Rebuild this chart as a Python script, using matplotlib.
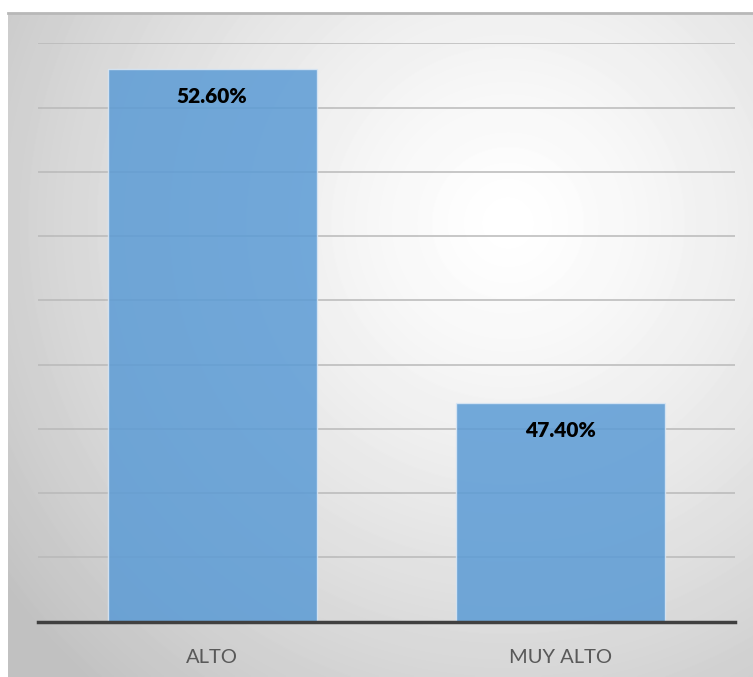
import numpy as np
import matplotlib.pyplot as plt

categories = ["ALTO", "MUY ALTO"]
values = [52.6, 47.4]
labels = ["52.60%", "47.40%"]

W, H = 753, 677
fig = plt.figure(figsize=(W / 100, H / 100), dpi=100)
fig.patch.set_facecolor("white")

# radial gray gradient behind the chart
bg = fig.add_axes([8 / W, 0, (W - 8) / W, (H - 13) / H])
bw, bh = W - 8, H - 13
xx, yy = np.meshgrid(np.arange(bw), np.arange(bh))
d = np.sqrt((xx - 500) ** 2 + (yy - 210) ** 2) / 620
d = np.clip(d, 0, 1)
shade = 1.0 - 0.24 * d ** 1.3
bg.imshow(shade, cmap="gray", vmin=0, vmax=1, aspect="auto", interpolation="bilinear")
bg.set_axis_off()
fig.add_artist(plt.Line2D([8 / W, 1], [(H - 13) / H] * 2, color="#b8b8b8", lw=2))

ax = fig.add_axes([38 / W, (H - 621.7) / H, (735 - 38) / W, (621.7 - 43.3) / H])
ax.patch.set_alpha(0)
x = np.arange(len(categories))
ax.bar(x, values, width=0.6, bottom=0, color="#5b9bd5", alpha=0.85,
       edgecolor="#dbe8f5", linewidth=1, zorder=3)
ax.set_xlim(-0.5, 1.5)
ax.set_ylim(44, 53)
ax.set_yticks(np.arange(44, 54, 1))
ax.yaxis.grid(True, color="#b9b9b9", linewidth=1.1, zorder=0)
ax.set_axisbelow(True)
ax.tick_params(axis="y", left=False, labelleft=False)
ax.tick_params(axis="x", length=0, pad=20, labelsize=14.5, labelcolor="#595959")
ax.set_xticks(x)
ax.set_xticklabels(categories, fontfamily="Lato")
for s in ["top", "right", "left"]:
    ax.spines[s].set_visible(False)
ax.spines["bottom"].set_color("#404040")
ax.spines["bottom"].set_linewidth(2.5)
ax.spines["bottom"].set_zorder(4)

for xi, v, lab in zip(x, values, labels):
    ax.annotate(lab, (xi, v), xytext=(0, -20), textcoords="offset points",
                ha="center", va="center", fontsize=15, fontweight="heavy",
                fontfamily="Lato", color="black", zorder=5)

plt.savefig("out.png", dpi=100)
